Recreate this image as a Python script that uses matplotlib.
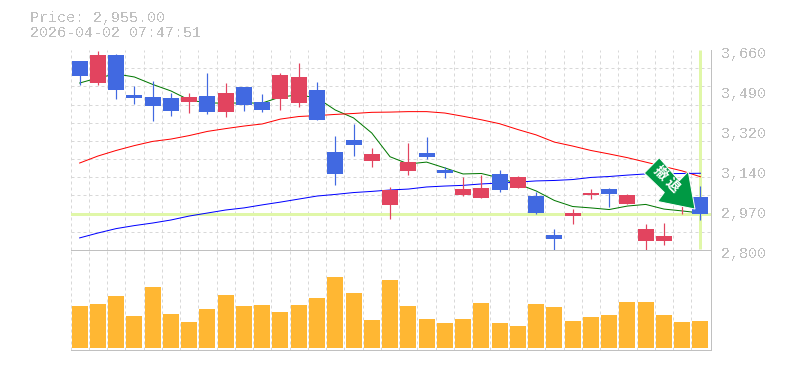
import numpy as np
import matplotlib
matplotlib.use('Agg')
import matplotlib.pyplot as plt
from matplotlib.patches import Polygon
from matplotlib.transforms import ScaledTranslation

W, H = 785, 370

# Candles, one value per trading day
opens = [3613, 3518, 3640, 3467, 3458, 3454, 3436, 3462, 3393, 3501, 3436, 3449, 3432, 3488, 3221, 3273, 3183, 2994,
         3140, 3217, 3144, 3037, 3024, 3127, 3067, 3032, 2866, 2946, 3037, 3062, 2998, 2839, 2839, 2998, 3028]
highs = [3613, 3657, 3643, 3505, 3527, 3475, 3475, 3561, 3518, 3501, 3471, 3561, 3604, 3522, 3290, 3342, 3239, 3071,
         3260, 3286, 3157, 3114, 3123, 3144, 3118, 3049, 2890, 2976, 3062, 3067, 3041, 2912, 2916, 3075, 3075]
lows = [3511, 3511, 3449, 3428, 3355, 3376, 3389, 3385, 3372, 3398, 3393, 3402, 3415, 3359, 3080, 3204, 3157, 2933,
        3123, 3191, 3110, 3032, 3024, 3049, 3067, 2955, 2800, 2912, 3019, 2985, 2998, 2800, 2822, 2955, 2929]
closes = [3548, 3640, 3488, 3454, 3419, 3398, 3458, 3393, 3475, 3424, 3402, 3553, 3544, 3359, 3127, 3252, 3213, 3058,
          3178, 3200, 3131, 3062, 3067, 3058, 3114, 2959, 2847, 2959, 3045, 3041, 3037, 2890, 2860, 3058, 2955]

# Moving averages
ma_short = [3518, 3540, 3557, 3544, 3512, 3484, 3445, 3432, 3432, 3432, 3432, 3458, 3467, 3454, 3402, 3368, 3303, 3201,
            3170, 3178, 3153, 3127, 3129, 3110, 3084, 3054, 3013, 2987, 2981, 2974, 2989, 2996, 2976, 2968, 2959]
ma_mid = [3174, 3204, 3228, 3249, 3267, 3277, 3292, 3310, 3322, 3333, 3342, 3363, 3374, 3378, 3383, 3387, 3392, 3393,
          3395, 3395, 3389, 3375, 3360, 3343, 3318, 3295, 3264, 3247, 3228, 3213, 3197, 3178, 3159, 3140, 3115]
ma_long = [2852, 2873, 2892, 2905, 2916, 2929, 2946, 2959, 2972, 2981, 2994, 3006, 3019, 3032, 3039, 3047, 3052, 3058,
           3062, 3071, 3075, 3078, 3084, 3088, 3092, 3097, 3099, 3103, 3112, 3116, 3122, 3127, 3128, 3129, 3130]

volumes = [42, 44, 52, 32, 61, 34, 26, 39, 53, 42, 43, 36, 43, 50, 71, 55, 28, 68,
           42, 29, 25, 29, 45, 25, 22, 44, 41, 27, 31, 33, 46, 46, 33, 26, 27]

date_idx = [4, 9, 14, 19, 24, 29, 34]
date_labels = ['2/17', '2/25', '3/4', '3/11', '3/18', '3/26', '4/2']
price_ticks = [3660, 3488, 3316, 3144, 2972, 2800]
price_labels = ['3,660', '3,490', '3,320', '3,140', '2,970', '2,800']

last_price = 2955
title_lines = ['Price: 2,955.00', '2026-04-02 07:47:51']

BLUE = '#4169e1'
RED = '#e2445f'
GRAY = '#c0c0c0'
GRID = '#d8d8d8'
HILITE = '#e0f7a8'
PX = 0.72  # one pixel in points at dpi 100


def axes_px(fig, left, top, right, bottom):
    return fig.add_axes([left / W, 1 - bottom / H, (right - left) / W, (bottom - top) / H])


def style_axes(ax):
    n = len(closes)
    ax.set_xlim(-0.5, n - 0.45)
    ax.set_xticks(np.arange(n) - 0.5, minor=True)
    ax.tick_params(which='both', length=0)
    ax.grid(which='minor', axis='x', color=GRID, lw=PX, ls=(0, (3, 3)), clip_on=False)
    ax.set_axisbelow(True)
    for s in ['top', 'bottom', 'left', 'right']:
        ax.spines[s].set_color(GRAY)
        ax.spines[s].set_linewidth(PX)
    ax.spines['left'].set_visible(False)


def plot_price(ax):
    style_axes(ax)
    x = np.arange(len(closes))
    ax.set_ylim(2800, 3660)
    ax.spines['top'].set_visible(False)
    ax.set_yticks(np.linspace(2800, 3660, 12), minor=True)
    ax.grid(which='minor', axis='y', color=GRID, lw=PX, ls=(0, (3, 3)), clip_on=False)

    ax.yaxis.tick_right()
    ax.set_yticks(price_ticks, price_labels, family='Liberation Mono', fontsize=10.8, color=GRAY)
    ax.tick_params(axis='y', which='major', pad=7.5)
    ax.set_xticks(date_idx, date_labels, family='Liberation Mono', fontsize=7.2, color=GRAY)
    ax.tick_params(axis='x', which='major', pad=5.6)
    for t in ax.get_xticklabels() + ax.get_yticklabels():
        t.set_antialiased(False)
    # price labels sit a little under their tick
    shift = ScaledTranslation(0, -2.5 * PX / 72, ax.figure.dpi_scale_trans)
    for t in ax.get_yticklabels():
        t.set_transform(t.get_transform() + shift)

    # current price markers
    ax.axhline(last_price, color=HILITE, lw=3 * PX, zorder=1.5)
    ax.plot([x[-1], x[-1]], [2806, 3660], color=HILITE, lw=3 * PX, zorder=1.5, solid_capstyle='butt')

    ax.plot(x, ma_short, color='#007700', lw=PX, zorder=2)
    ax.plot(x, ma_mid, color='#ff0000', lw=PX, zorder=2)
    ax.plot(x, ma_long, color='#0000ff', lw=PX, zorder=2)

    for i in x:
        col = RED if closes[i] >= opens[i] else BLUE
        ax.vlines(i, lows[i], highs[i], color=col, lw=PX * 1.2, zorder=3)
        ax.bar(i, abs(closes[i] - opens[i]), bottom=min(opens[i], closes[i]), width=0.876, color=col, zorder=3)


def draw_arrow(ax):
    # arrow shape is given in pixels around its tip
    tip = ax.transData.transform((33.7, 2976))
    shape = [(-35.7, 51.3), (-50.7, 36), (-30.7, 16.6), (-37.3, 7.6), (0, 0), (-6.7, 37.6), (-15.7, 28.3)]
    verts = np.array(shape) + tip
    ax.add_patch(Polygon(verts, closed=True, transform=None, facecolor='#009944',
                         edgecolor='white', lw=PX, zorder=5, clip_on=False))
    for ch, px, py in [('撤', 660.7, 173), ('退', 672.3, 185.7)]:
        ax.figure.text(px / W, 1 - py / H, ch, family=['Noto Sans CJK JP', 'DejaVu Sans'], weight='bold',
                       fontsize=10, color='white', rotation=-45, ha='center', va='center', zorder=6)


def plot_volume(ax):
    style_axes(ax)
    ax.set_ylim(-2, 98)
    ax.set_xticks([])
    ax.set_yticks([])
    ax.bar(np.arange(len(volumes)), volumes, width=0.876, color='#ffb733', zorder=3)


if __name__ == "__main__":
    fig = plt.figure(figsize=(W / 100, H / 100), dpi=100)
    price_ax = axes_px(fig, 70.5, 50, 710.5, 250)
    vol_ax = axes_px(fig, 70.5, 250, 710.5, 350)

    plot_price(price_ax)
    plot_volume(vol_ax)
    draw_arrow(price_ax)

    for line, y in zip(title_lines, [18, 33]):
        fig.text(29.5 / W, 1 - y / H, line, family='Liberation Mono', fontsize=10.8, color=GRAY,
                 va='center', ha='left', antialiased=False)

    plt.savefig('out.png', dpi=100)
